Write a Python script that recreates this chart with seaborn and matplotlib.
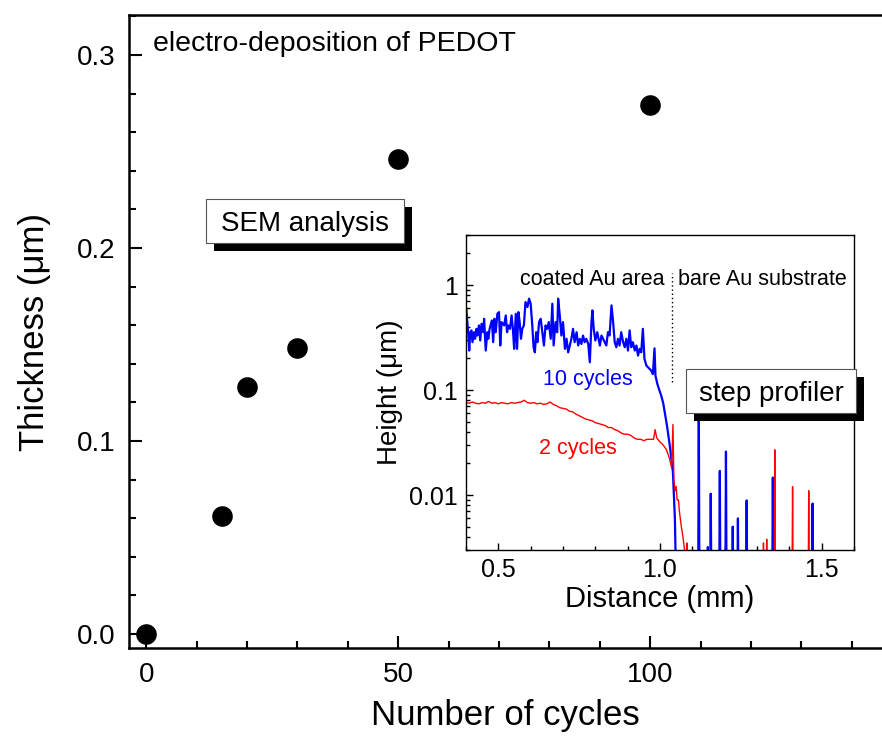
import numpy as np
import pandas as pd
import matplotlib
matplotlib.use("Agg")
import matplotlib.pyplot as plt
from matplotlib.patches import Rectangle
from matplotlib.ticker import MultipleLocator, LogLocator, NullFormatter, FixedLocator, FixedFormatter
import seaborn as sns

# ---------------- data ----------------
cycles = [0, 15, 20, 30, 50, 100]
thickness = [0.0, 0.061, 0.128, 0.148, 0.246, 0.274]

main_xticks = [0, 50, 100]
main_yticks = [0.0, 0.1, 0.2, 0.3]
main_ytick_labels = ["0.0", "0.1", "0.2", "0.3"]

# 10 cycles profile (distance mm, height um)
blue_x = [0.401, 0.404, 0.408, 0.410, 0.413, 0.417, 0.420, 0.425, 0.428, 0.432,
          0.435, 0.440, 0.444, 0.448, 0.453, 0.456, 0.461, 0.466, 0.469, 0.473,
          0.480, 0.484, 0.488, 0.492, 0.497, 0.502, 0.506, 0.510, 0.518, 0.523,
          0.527, 0.531, 0.536, 0.541, 0.545, 0.549, 0.554, 0.558, 0.562, 0.566,
          0.570, 0.574, 0.579, 0.584, 0.590, 0.595, 0.600, 0.605, 0.609, 0.613,
          0.617, 0.621, 0.626, 0.631, 0.636, 0.641, 0.646, 0.651, 0.656, 0.662,
          0.667, 0.671, 0.677, 0.682,
          0.685, 0.690, 0.695, 0.700, 0.706, 0.711, 0.716, 0.721, 0.726, 0.731,
          0.736, 0.742, 0.747, 0.752, 0.757, 0.762, 0.767, 0.772, 0.778, 0.783,
          0.788, 0.791, 0.795, 0.800, 0.806, 0.814, 0.819, 0.824, 0.829, 0.834,
          0.839, 0.844, 0.850, 0.855, 0.860, 0.865, 0.870, 0.875, 0.880, 0.886,
          0.891, 0.896, 0.901, 0.906, 0.911, 0.916, 0.922, 0.927, 0.932, 0.937,
          0.942, 0.947, 0.952, 0.958, 0.963, 0.968, 0.973, 0.978, 0.983, 0.986,
          0.992, 0.997, 1.004, 1.010, 1.022, 1.030, 1.040, 1.046, 1.049,
          1.118, 1.120, 1.122, 1.146, 1.148, 1.150, 1.155, 1.157, 1.159,
          1.183, 1.185, 1.187, 1.202, 1.204, 1.206, 1.223, 1.225, 1.227,
          1.239, 1.241, 1.243, 1.266, 1.268, 1.270, 1.347, 1.349, 1.351,
          1.470, 1.472, 1.474, 1.500]
blue_h = [0.596, 0.444, 0.308, 0.238, 0.356, 0.370, 0.286, 0.356, 0.308, 0.383,
          0.331, 0.413, 0.297, 0.428, 0.356, 0.478, 0.238, 0.356, 0.308, 0.383,
          0.460, 0.286, 0.478, 0.356, 0.533, 0.553, 0.266, 0.444, 0.413, 0.514,
          0.356, 0.413, 0.383, 0.514, 0.383, 0.247, 0.533, 0.247, 0.553, 0.444,
          0.308, 0.383, 0.413, 0.690, 0.618, 0.743, 0.665, 0.413, 0.256, 0.229,
          0.356, 0.286, 0.444, 0.478, 0.356, 0.266, 0.413, 0.383, 0.444, 0.308,
          0.665, 0.266, 0.444, 0.356,
          0.743, 0.514, 0.331, 0.444, 0.247, 0.308, 0.229, 0.266, 0.308, 0.383,
          0.286, 0.356, 0.266, 0.308, 0.275, 0.331, 0.286, 0.308, 0.275, 0.184,
          0.444, 0.574, 0.383, 0.297, 0.356, 0.266, 0.331, 0.308, 0.286, 0.266,
          0.356, 0.331, 0.641, 0.444, 0.286, 0.256, 0.308, 0.266, 0.356, 0.286,
          0.256, 0.308, 0.238, 0.370, 0.256, 0.286, 0.238, 0.266, 0.213, 0.247,
          0.229, 0.383, 0.198, 0.171, 0.165, 0.159, 0.153, 0.142, 0.250, 0.137,
          0.114, 0.102, 0.088, 0.075, 0.045, 0.030, 0.0165, 0.006, 0.002,
          0.001, 0.070, 0.001, 0.001, 0.0032, 0.001, 0.001, 0.0103, 0.001,
          0.001, 0.017, 0.001, 0.001, 0.026, 0.001, 0.001, 0.005, 0.001,
          0.001, 0.006, 0.001, 0.001, 0.0089, 0.001, 0.001, 0.0147, 0.001,
          0.001, 0.0083, 0.001, 0.001]

# 2 cycles profile
red_x = [0.40, 0.41, 0.42, 0.43, 0.44, 0.45, 0.46, 0.47, 0.48, 0.49,
         0.50, 0.51, 0.52, 0.53, 0.54, 0.55, 0.56, 0.57, 0.58, 0.59,
         0.60, 0.61, 0.62, 0.63, 0.64, 0.65, 0.66, 0.67, 0.68, 0.69,
         0.70, 0.71, 0.72, 0.73, 0.74, 0.75, 0.76, 0.77, 0.78, 0.79,
         0.80, 0.81, 0.82, 0.83, 0.84, 0.85, 0.86, 0.87, 0.88, 0.89,
         0.90, 0.91, 0.92, 0.93, 0.94, 0.95, 0.96, 0.97, 0.98, 0.985,
         0.99, 1.00, 1.01, 1.02, 1.03, 1.036, 1.040, 1.043, 1.047, 1.050,
         1.053, 1.057, 1.060, 1.066, 1.071, 1.076, 1.080, 1.082, 1.083, 1.085,
         1.318, 1.320, 1.322, 1.328, 1.330, 1.332, 1.353, 1.355, 1.357,
         1.408, 1.410, 1.412, 1.458, 1.460, 1.462, 1.500]
red_h = [0.076, 0.075, 0.077, 0.075, 0.074, 0.076, 0.075, 0.078, 0.075, 0.076,
         0.074, 0.076, 0.075, 0.074, 0.076, 0.075, 0.076, 0.077, 0.080, 0.076,
         0.075, 0.076, 0.074, 0.075, 0.073, 0.074, 0.077, 0.073, 0.071, 0.068,
         0.067, 0.066, 0.063, 0.062, 0.059, 0.057, 0.055, 0.053, 0.052, 0.051,
         0.049, 0.048, 0.047, 0.046, 0.044, 0.044, 0.042, 0.041, 0.039, 0.038,
         0.038, 0.037, 0.035, 0.034, 0.034, 0.033, 0.034, 0.034, 0.034, 0.042,
         0.035, 0.032, 0.030, 0.027, 0.022, 0.018, 0.047, 0.014, 0.011, 0.012,
         0.009, 0.009, 0.007, 0.005, 0.004, 0.003, 0.0025, 0.001, 0.0035, 0.001,
         0.001, 0.0035, 0.001, 0.001, 0.0038, 0.001, 0.001, 0.027, 0.001,
         0.001, 0.012, 0.001, 0.001, 0.011, 0.001, 0.001]

inset_xticks = [0.5, 1.0, 1.5]
inset_xtick_labels = ["0.5", "1.0", "1.5"]
inset_yticks = [0.01, 0.1, 1]
inset_ytick_labels = ["0.01", "0.1", "1"]
divider_x = 1.036
divider_span = (0.12, 1.3)

# ---------------- style ----------------
sns.set_style("white")
plt.rcParams["font.family"] = ["Liberation Sans", "DejaVu Sans"]
plt.rcParams["text.color"] = "black"
plt.rcParams["axes.labelcolor"] = "black"
plt.rcParams["xtick.color"] = "black"
plt.rcParams["ytick.color"] = "black"

W, H = 882, 740
fig = plt.figure(figsize=(W / 100, H / 100), dpi=100)

def fx(px):
    return px / W

def fy(py):
    return 1 - py / H

# ---------------- main axes ----------------
ax = fig.add_axes([fx(129), fy(648), 1 - fx(129), fy(15) - fy(648)])
main_df = pd.DataFrame({"cycles": cycles, "thickness": thickness})
sns.scatterplot(data=main_df, x="cycles", y="thickness", ax=ax, s=220,
                color="black", edgecolor="black", linewidth=0, zorder=3, clip_on=False)
ax.set_xlim(-3.4, 146)
ax.set_ylim(-0.0073, 0.3207)
ax.set_xticks(main_xticks)
ax.set_yticks(main_yticks)
ax.set_yticklabels(main_ytick_labels)
ax.xaxis.set_minor_locator(MultipleLocator(10))
ax.yaxis.set_minor_locator(MultipleLocator(0.02))
ax.tick_params(which="both", direction="in", width=1.5, color="black",
               bottom=True, left=True, top=False, right=False)
ax.tick_params(which="major", length=9, labelsize=20, pad=10)
ax.tick_params(which="minor", length=5)
ax.spines["right"].set_visible(False)
for s in ["left", "bottom", "top"]:
    ax.spines[s].set_linewidth(1.8)
    ax.spines[s].set_color("black")
ax.set_xlabel("Number of cycles", fontsize=25, labelpad=8)
ax.set_ylabel("Thickness (\u03bcm)", fontsize=25, labelpad=18)
ax.text(1.4, 0.302, "electro-deposition of PEDOT", fontsize=20.5, va="baseline", ha="left")

# ---------------- inset axes ----------------
ax2 = fig.add_axes([fx(466), fy(550), fx(854) - fx(466), fy(235) - fy(550)])
ax2.set_yscale("log")
sns.lineplot(x=blue_x, y=blue_h, ax=ax2, color="#0000ff", linewidth=1.6,
             sort=False, estimator=None)
sns.lineplot(x=red_x, y=red_h, ax=ax2, color="#ff0000", linewidth=1.0,
             sort=False, estimator=None)
ax2.set_xlim(0.4, 1.6)
ax2.set_ylim(0.003, 3)
ax2.xaxis.set_major_locator(FixedLocator(inset_xticks))
ax2.xaxis.set_major_formatter(FixedFormatter(inset_xtick_labels))
ax2.xaxis.set_minor_locator(MultipleLocator(0.1))
ax2.yaxis.set_major_locator(FixedLocator(inset_yticks))
ax2.yaxis.set_major_formatter(FixedFormatter(inset_ytick_labels))
ax2.yaxis.set_minor_locator(LogLocator(base=10, subs=np.arange(2, 10)))
ax2.yaxis.set_minor_formatter(NullFormatter())
ax2.tick_params(which="both", direction="in", width=1.0, color="black",
                bottom=True, left=True, top=False, right=False)
ax2.tick_params(which="major", length=5, labelsize=18, pad=6)
ax2.tick_params(which="minor", length=3)
for s in ax2.spines.values():
    s.set_linewidth(1.0)
    s.set_color("black")
ax2.set_xlabel("Distance (mm)", fontsize=21, labelpad=2)
ax2.set_ylabel("Height (\u03bcm)", fontsize=20, labelpad=4)
ax2.vlines(divider_x, divider_span[0], divider_span[1], colors="black",
           linestyles=(0, (1, 2)), linewidth=1.0)
ax2.text(1.015, 1.0, "coated Au area", fontsize=15.5, ha="right", va="baseline")
ax2.text(1.056, 1.0, "bare Au substrate", fontsize=15.5, ha="left", va="baseline")
ax2.text(0.639, 0.111, "10 cycles", fontsize=15.5, color="#0000ff", ha="left", va="baseline")
ax2.text(0.627, 0.0244, "2 cycles", fontsize=15.5, color="#ff0000", ha="left", va="baseline")

# ---------------- shadowed label boxes ----------------
def shadow_box(x0, y0, x1, y1, off, text):
    fig.add_artist(Rectangle((fx(x0 + off), fy(y1 + off)), fx(x1 - x0), fy(y0) - fy(y1),
                             transform=fig.transFigure, facecolor="black",
                             edgecolor="none", zorder=5))
    fig.add_artist(Rectangle((fx(x0), fy(y1)), fx(x1 - x0), fy(y0) - fy(y1),
                             transform=fig.transFigure, facecolor="white",
                             edgecolor="#555555", linewidth=0.8, zorder=6))
    fig.text(fx((x0 + x1) / 2), fy((y0 + y1) / 2), text, fontsize=20,
             ha="center", va="center_baseline", zorder=7)

shadow_box(206, 199, 404, 243, 8, "SEM analysis")
shadow_box(686, 369, 856, 413, 8, "step profiler")

fig.savefig("out.png", dpi=100)
